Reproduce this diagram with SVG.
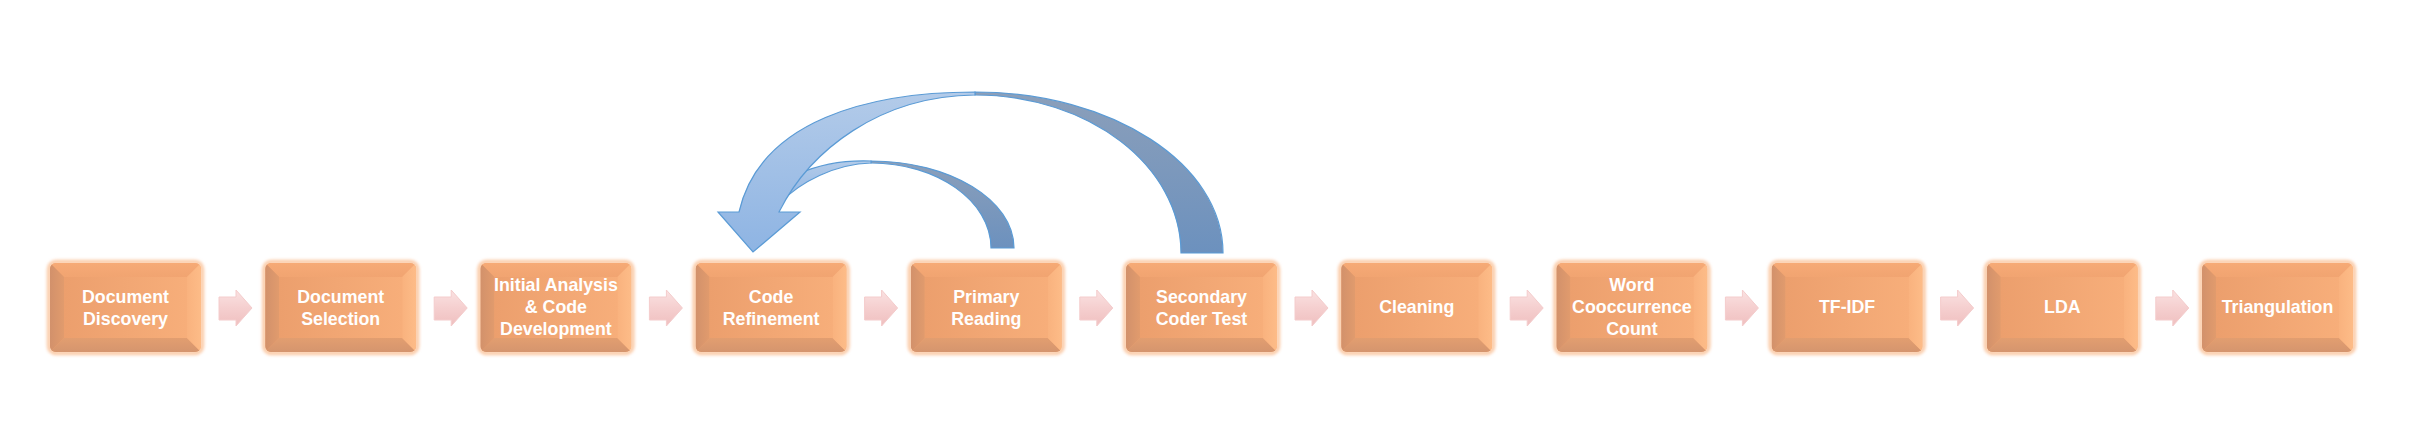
<svg xmlns="http://www.w3.org/2000/svg" xmlns:xlink="http://www.w3.org/1999/xlink" width="2420" height="444" viewBox="0 0 2420 444">
<style>
.lbl{font-family:"Liberation Sans",Arial,sans-serif;font-weight:bold;font-size:17.8px;fill:#ffffff;text-anchor:middle}
.step{stroke:#f4cccc;stroke-width:1}
.front{stroke:#5b9bd5;stroke-width:1.2}
.back{stroke:#5b9bd5;stroke-width:1.2}
</style>
<defs>
<linearGradient id="face" x1="0" y1="0" x2="1" y2="0">
<stop offset="0" stop-color="#ec9f6d"/><stop offset="1" stop-color="#f7ae7a"/>
</linearGradient>
<linearGradient id="lbev" x1="0" y1="0" x2="1" y2="0">
<stop offset="0" stop-color="#d2916b"/><stop offset="1" stop-color="#e19b6d"/>
</linearGradient>
<linearGradient id="rbev" x1="0" y1="0" x2="1" y2="0">
<stop offset="0" stop-color="#f9b27e"/><stop offset="1" stop-color="#fdbc88"/>
</linearGradient>
<linearGradient id="bbev" x1="0" y1="0" x2="0" y2="1">
<stop offset="0" stop-color="#e29e70"/><stop offset="1" stop-color="#d5956e"/>
</linearGradient>
<linearGradient id="tbev" x1="0" y1="0" x2="0" y2="1">
<stop offset="0" stop-color="#f6aa76"/><stop offset="1" stop-color="#f1a471"/>
</linearGradient>
<linearGradient id="pink" x1="0" y1="0" x2="0" y2="1">
<stop offset="0" stop-color="#fae2e2"/><stop offset="0.5" stop-color="#f5cfcf"/><stop offset="1" stop-color="#efbfbf"/>
</linearGradient>
<linearGradient id="lightBlue" x1="0" y1="0" x2="0" y2="1">
<stop offset="0" stop-color="#b3cbe9"/><stop offset="1" stop-color="#8eb4e3"/>
</linearGradient>
<linearGradient id="darkBlue" x1="0" y1="0" x2="0" y2="1">
<stop offset="0" stop-color="#8b9fba"/><stop offset="1" stop-color="#6c91be"/>
</linearGradient>
<filter id="glow" x="-10%" y="-15%" width="120%" height="130%">
<feGaussianBlur stdDeviation="1.8"/>
</filter>
<clipPath id="boxclip"><rect x="0" y="0" width="151" height="89" rx="6"/></clipPath>
<g id="box">
<rect x="-1" y="-1" width="153" height="91" rx="7" fill="none" stroke="#fbcdab" stroke-width="4.5" filter="url(#glow)"/>
<g clip-path="url(#boxclip)">
<rect x="0" y="0" width="151" height="89" fill="url(#face)"/>
<polygon points="0,0 151,0 137,14 14,14" fill="url(#tbev)"/>
<polygon points="0,0 14,14 14,75 0,89" fill="url(#lbev)"/>
<polygon points="0,89 14,75 137,75 151,89" fill="url(#bbev)"/>
<polygon points="151,0 151,89 137,75 137,14" fill="url(#rbev)"/>
<rect x="14" y="14" width="123" height="61" fill="url(#face)"/>
</g>
</g>
<path id="step" d="M0,297 L17,297 L17,290 L33,308 L17,326 L17,320 L0,320 Z"/>
</defs>
<rect width="2420" height="444" fill="#ffffff"/>

<g id="connectors">
<use href="#step" x="219" fill="url(#pink)" class="step"/>
<use href="#step" x="434.2" fill="url(#pink)" class="step"/>
<use href="#step" x="649.4" fill="url(#pink)" class="step"/>
<use href="#step" x="864.6" fill="url(#pink)" class="step"/>
<use href="#step" x="1079.8" fill="url(#pink)" class="step"/>
<use href="#step" x="1295" fill="url(#pink)" class="step"/>
<use href="#step" x="1510.2" fill="url(#pink)" class="step"/>
<use href="#step" x="1725.4" fill="url(#pink)" class="step"/>
<use href="#step" x="1940.6" fill="url(#pink)" class="step"/>
<use href="#step" x="2155.8" fill="url(#pink)" class="step"/>

<g id="loop-primary">
<path class="back" fill="url(#darkBlue)" d="M871,161 C950,161 1014,200 1014,248 L991,248 C991,201 937,163 871,163 Z"/>
<path class="front" fill="url(#lightBlue)" d="M871,161 C845,160 818,165 798,174 L772,206 L780,203 C800,182 835,164 871,163 Z"/>
</g>
<g id="loop-secondary">
<path class="back" fill="url(#darkBlue)" d="M975,92 C1112,92 1223,164 1223,253 L1181,253 C1181,166 1089,95 975,95 Z"/>
<path class="front" fill="url(#lightBlue)" d="M975,92 C870,92 760,120 739,212 L718,212 L753,252 L800,212 L779,212 C810,150 880,96 975,95 Z"/>
</g>
</g>

<g id="n1" transform="translate(50,263)"><use href="#box"/><text class="lbl" x="75.5" y="40">Document</text><text class="lbl" x="75.5" y="62">Discovery</text></g>
<g id="n2" transform="translate(265.2,263)"><use href="#box"/><text class="lbl" x="75.5" y="40">Document</text><text class="lbl" x="75.5" y="62">Selection</text></g>
<g id="n3" transform="translate(480.4,263)"><use href="#box"/><text class="lbl" x="75.5" y="28">Initial Analysis</text><text class="lbl" x="75.5" y="50">&amp; Code</text><text class="lbl" x="75.5" y="72">Development</text></g>
<g id="n4" transform="translate(695.6,263)"><use href="#box"/><text class="lbl" x="75.5" y="40">Code</text><text class="lbl" x="75.5" y="62">Refinement</text></g>
<g id="n5" transform="translate(910.8,263)"><use href="#box"/><text class="lbl" x="75.5" y="40">Primary</text><text class="lbl" x="75.5" y="62">Reading</text></g>
<g id="n6" transform="translate(1126,263)"><use href="#box"/><text class="lbl" x="75.5" y="40">Secondary</text><text class="lbl" x="75.5" y="62">Coder Test</text></g>
<g id="n7" transform="translate(1341.2,263)"><use href="#box"/><text class="lbl" x="75.5" y="50">Cleaning</text></g>
<g id="n8" transform="translate(1556.4,263)"><use href="#box"/><text class="lbl" x="75.5" y="28">Word</text><text class="lbl" x="75.5" y="50">Cooccurrence</text><text class="lbl" x="75.5" y="72">Count</text></g>
<g id="n9" transform="translate(1771.6,263)"><use href="#box"/><text class="lbl" x="75.5" y="50">TF-IDF</text></g>
<g id="n10" transform="translate(1986.8,263)"><use href="#box"/><text class="lbl" x="75.5" y="50">LDA</text></g>
<g id="n11" transform="translate(2202,263)"><use href="#box"/><text class="lbl" x="75.5" y="50">Triangulation</text></g>
</svg>
